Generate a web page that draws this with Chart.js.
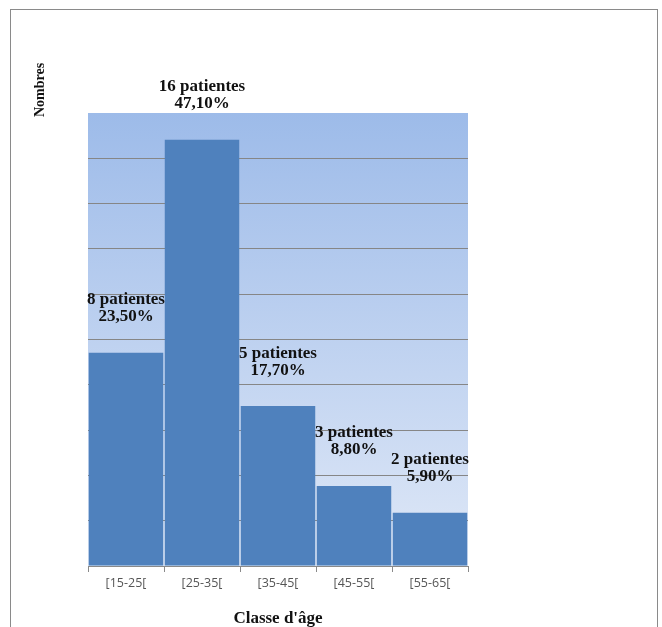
<!DOCTYPE html>
<html>
<head>
<meta charset="utf-8">
<script src="https://cdn.jsdelivr.net/npm/chart.js@4/dist/chart.umd.min.js"></script>
<style>
  html, body { margin: 0; padding: 0; background: #fff; }
  #frame { position: absolute; left: 10px; top: 9px; width: 646px; height: 640px; border: 1px solid #8a8a8a; }
  #wrap { position: absolute; left: 0; top: 0; width: 662px; height: 627px; }
</style>
</head>
<body>
<div id="frame"></div>
<div id="wrap"><canvas id="ageChart" width="662" height="627"></canvas></div>
<script>
// Age classes and patient counts (bar heights)
const ageClasses = ['[15-25[', '[25-35[', '[35-45[', '[45-55[', '[55-65['];
const patientCounts = [8, 16, 6, 3, 2];
const countLabels = ['8 patientes', '16 patientes', '5 patientes', '3 patientes', '2 patientes'];
const percentLabels = ['23,50%', '47,10%', '17,70%', '8,80%', '5,90%'];
const yMax = 17;
const yStep = 1.7;

// gradient behind the plot area
const plotBackground = {
    id: 'plotBackground',
    beforeDraw(chart) {
        const { ctx, chartArea: a } = chart;
        const g = ctx.createLinearGradient(0, a.top, 0, a.bottom);
        g.addColorStop(0, '#9dbbe9');
        g.addColorStop(1, '#dfe8f7');
        ctx.save();
        ctx.fillStyle = g;
        ctx.fillRect(a.left, a.top, a.right - a.left, a.bottom - a.top);
        ctx.restore();
    }
};

// two-line labels above the bars + axis titles
const barLabels = {
    id: 'barLabels',
    afterDatasetsDraw(chart) {
        const { ctx, chartArea: a } = chart;
        const meta = chart.getDatasetMeta(0);
        ctx.save();
        ctx.fillStyle = '#111';
        ctx.textAlign = 'center';
        ctx.textBaseline = 'middle';
        ctx.font = 'bold 17px "Liberation Serif", "DejaVu Serif", serif';
        meta.data.forEach((bar, i) => {
            ctx.fillText(countLabels[i], bar.x, bar.y - 53);
            ctx.fillText(percentLabels[i], bar.x, bar.y - 36);
        });
        ctx.fillText("Classe d'âge", (a.left + a.right) / 2, a.bottom + 53);
        ctx.translate(a.left - 48, a.top - 23);
        ctx.rotate(-Math.PI / 2);
        ctx.font = 'bold 14px "Liberation Serif", serif';
        ctx.fillText('Nombres', 0, 0);
        ctx.restore();
    }
};

const ctx = document.getElementById('ageChart').getContext('2d');
new Chart(ctx, {
    type: 'bar',
    data: {
        labels: ageClasses,
        datasets: [{
            label: 'Nombres',
            data: patientCounts,
            backgroundColor: '#4f81bd',
            barPercentage: 0.98,
            categoryPercentage: 1
        }]
    },
    options: {
        responsive: false,
        animation: false,
        layout: { padding: { left: 0, right: 194, top: 113, bottom: 0 } },
        scales: {
            x: {
                afterFit: (s) => { s.height = 61; },
                border: { color: '#8a8a8a' },
                grid: {
                    drawOnChartArea: false,
                    color: '#8a8a8a',
                    tickLength: 6
                },
                ticks: {
                    color: '#555',
                    padding: 4,
                    font: { family: '"Open Sans", "Noto Sans", sans-serif', size: 12.5 }
                }
            },
            y: {
                min: 0,
                max: yMax,
                afterFit: (s) => { s.width = 88; },
                border: { display: false },
                ticks: { display: false, stepSize: yStep },
                grid: {
                    drawTicks: false,
                    color: (c) => (c.tick && c.tick.value > yMax - 0.5) ? 'rgba(0,0,0,0)' : '#868686'
                }
            }
        },
        plugins: {
            legend: { display: false },
            tooltip: { enabled: false }
        }
    },
    plugins: [plotBackground, barLabels]
});
</script>
</body>
</html>
